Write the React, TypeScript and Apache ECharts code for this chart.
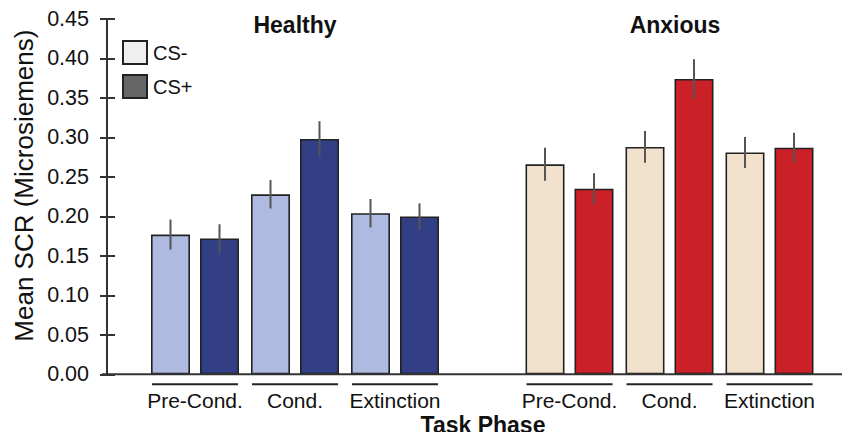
import React, { useEffect, useRef } from 'react';
import * as echarts from 'echarts';

// ---- data ----
const phases = ['Pre-Cond.', 'Cond.', 'Extinction'];
const groupTitles = ['Healthy', 'Anxious'];
const legendNames = ['CS-', 'CS+'];
const healthyCSminus = [0.177, 0.228, 0.204];
const healthyCSplus = [0.172, 0.298, 0.2];
const healthyCSminusErr = [0.019, 0.018, 0.018];
const healthyCSplusErr = [0.018, 0.0225, 0.0165];
const anxiousCSminus = [0.266, 0.288, 0.281];
const anxiousCSplus = [0.235, 0.374, 0.287];
const anxiousCSminusErr = [0.021, 0.02, 0.0196];
const anxiousCSplusErr = [0.0197, 0.025, 0.019];
const yMin = 0;
const yMax = 0.45;
const yStep = 0.05;

// ---- layout / style ----
const FONT = 'Liberation Sans, Arial, Helvetica, sans-serif';
const GRID_TOP = 19;
const GRID_BOTTOM = 65.7;
const GRID_W = 300;
const GRID_LEFTS = [145, 519.5];
const Y_OFFSET = 38;
const BAR_W = 39;
const BAR_GAP_PX = 10;
const COLORS = [
  ['#aebadf', '#333f84'],
  ['#f2e1cd', '#cb2027'],
];

export default function App() {
  const ref = useRef<HTMLDivElement>(null);

  useEffect(() => {
    if (!ref.current) return;
    const chart = echarts.init(ref.current, undefined, { renderer: 'svg' });

    const values = [
      [healthyCSminus, healthyCSplus],
      [anxiousCSminus, anxiousCSplus],
    ];
    const errs = [
      [healthyCSminusErr, healthyCSplusErr],
      [anxiousCSminusErr, anxiousCSplusErr],
    ];

    const series: any[] = [];
    values.forEach((pair, g) => {
      pair.forEach((vals, k) => {
        series.push({
          type: 'bar',
          name: legendNames[k],
          xAxisIndex: g,
          yAxisIndex: g === 0 ? 0 : 2,
          data: vals,
          barWidth: BAR_W,
          barGap: (BAR_GAP_PX / BAR_W) * 100 + '%',
          itemStyle: { color: COLORS[g][k], borderColor: '#222', borderWidth: 1.6 },
          z: 2,
        });
      });
      pair.forEach((vals, k) => {
        const side = k === 0 ? -1 : 1;
        series.push({
          type: 'custom',
          name: legendNames[k] + ' err',
          xAxisIndex: g,
          yAxisIndex: g === 0 ? 0 : 2,
          data: vals.map((v, j) => [j, v, errs[g][k][j]]),
          z: 5,
          renderItem: (params: any, api: any) => {
            const x = api.value(0);
            const v = api.value(1);
            const e = api.value(2);
            const top = api.coord([x, v + e]);
            const bot = api.coord([x, v - e]);
            const off = (side * (BAR_W + BAR_GAP_PX)) / 2;
            return {
              type: 'line',
              shape: { x1: top[0] + off, y1: top[1], x2: bot[0] + off, y2: bot[1] },
              style: { stroke: '#555', lineWidth: 2 },
            };
          },
        });
      });
    });

    const xAxes = GRID_LEFTS.map((_, g) => ({
      type: 'category',
      gridIndex: g,
      data: phases,
      axisLine: { show: false },
      axisTick: { show: false },
      axisLabel: { interval: 0, fontSize: 21, fontFamily: FONT, color: '#111', margin: 16 },
    }));

    const option: any = {
      animation: false,
      textStyle: { fontFamily: FONT },
      title: [
        {
          text: groupTitles[0],
          left: GRID_LEFTS[0] + GRID_W / 2,
          top: 13,
          padding: 0,
          textAlign: 'center',
          textStyle: { fontSize: 23, fontWeight: 'bold', color: '#111', fontFamily: FONT },
        },
        {
          text: groupTitles[1],
          left: 675,
          top: 13,
          padding: 0,
          textAlign: 'center',
          textStyle: { fontSize: 23, fontWeight: 'bold', color: '#111', fontFamily: FONT },
        },
        {
          text: 'Task Phase',
          left: 483,
          top: 413,
          padding: 0,
          textAlign: 'center',
          textStyle: { fontSize: 23, fontWeight: 'bold', color: '#111', fontFamily: FONT, lineHeight: 24 },
        },
      ],
      legend: {
        orient: 'vertical',
        left: 122,
        top: 40,
        padding: 0,
        itemWidth: 24,
        itemHeight: 23,
        itemGap: 9,
        selectedMode: false,
        textStyle: { fontSize: 20, color: '#111', fontFamily: FONT, padding: [0, 0, 0, 1] },
        data: [
          { name: legendNames[0], icon: 'rect', itemStyle: { color: '#efefef', borderColor: '#222', borderWidth: 2 } },
          { name: legendNames[1], icon: 'rect', itemStyle: { color: '#666666', borderColor: '#222', borderWidth: 2 } },
        ],
      },
      grid: GRID_LEFTS.map((left) => ({
        left,
        width: GRID_W,
        top: GRID_TOP,
        bottom: GRID_BOTTOM,
        containLabel: false,
      })),
      xAxis: xAxes,
      yAxis: [
        {
          type: 'value',
          gridIndex: 0,
          min: yMin,
          max: yMax,
          interval: yStep,
          offset: Y_OFFSET,
          position: 'left',
          name: 'Mean SCR (Microsiemens)',
          nameLocation: 'middle',
          nameGap: 70,
          nameTextStyle: { fontSize: 26, color: '#111', fontFamily: FONT, padding: [0, 0, 0, 22] },
          axisLine: { show: true, lineStyle: { color: '#333', width: 2 } },
          axisTick: { show: true, length: 7, lineStyle: { color: '#333', width: 2 } },
          axisLabel: {
            fontSize: 21.5,
            color: '#111',
            fontFamily: FONT,
            margin: 18,
            formatter: (v: number) => v.toFixed(2),
          },
          splitLine: { show: false },
        },
        {
          type: 'value',
          gridIndex: 0,
          min: yMin,
          max: yMax,
          interval: yStep,
          offset: Y_OFFSET,
          position: 'left',
          axisLine: { show: false },
          axisTick: { show: true, inside: true, length: 8, lineStyle: { color: '#333', width: 2 } },
          axisLabel: { show: false },
          splitLine: { show: false },
        },
        {
          type: 'value',
          gridIndex: 1,
          min: yMin,
          max: yMax,
          interval: yStep,
          show: false,
          splitLine: { show: false },
        },
      ],
      series,
    };

    chart.setOption(option);

    // decorations derived from the axes: baseline and phase underlines
    const y0 = chart.convertToPixel({ yAxisIndex: 0 }, 0) as number;
    const axisX = GRID_LEFTS[0] - Y_OFFSET;
    const graphic: any[] = [
      {
        type: 'line',
        shape: { x1: axisX - 5, y1: y0, x2: 850, y2: y0 },
        style: { stroke: '#333', lineWidth: 2 },
        z: 10,
      },
    ];
    GRID_LEFTS.forEach((_, g) => {
      phases.forEach((_p, j) => {
        const cx = chart.convertToPixel({ xAxisIndex: g }, j) as number;
        const half = BAR_W + BAR_GAP_PX / 2 - 1;
        graphic.push({
          type: 'line',
          shape: { x1: cx - half, y1: y0 + 10, x2: cx + half, y2: y0 + 10 },
          style: { stroke: '#222', lineWidth: 2 },
          z: 10,
        });
      });
    });
    chart.setOption({ graphic });

    return () => chart.dispose();
  }, []);

  return <div ref={ref} style={{ width: 850, height: 440, margin: -8 }} />;
}
